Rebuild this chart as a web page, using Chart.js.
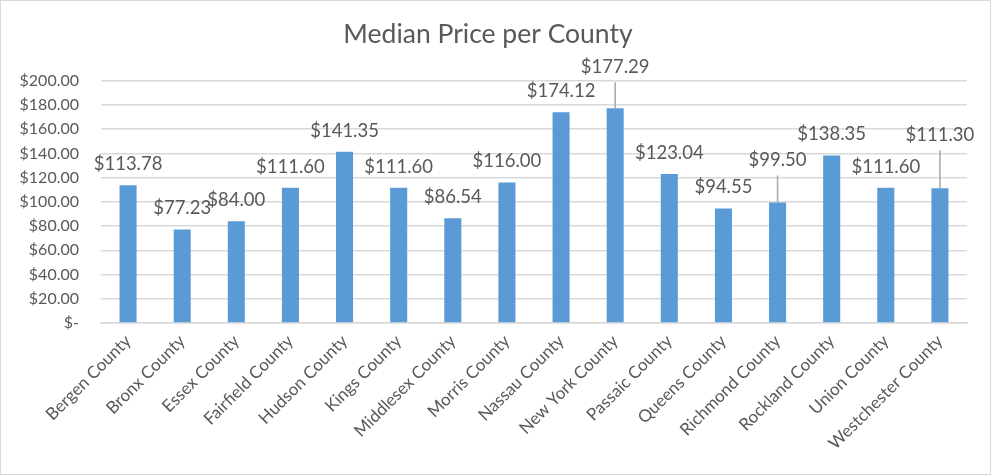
<!DOCTYPE html>
<html>
<head>
<meta charset="utf-8">
<script src="https://cdn.jsdelivr.net/npm/chart.js@4/dist/chart.umd.min.js"></script>
<style>
  html, body { margin: 0; padding: 0; background: #fff; }
  #wrap { position: relative; width: 989px; height: 473px; border: 1px solid #d9d9d9; }
</style>
</head>
<body>
<div id="wrap"><canvas id="precioChart"></canvas></div>
<script>
// Datos del gráfico
const counties = [
    'Bergen County', 'Bronx County', 'Essex County', 'Fairfield County',
    'Hudson County', 'Kings County', 'Middlesex County', 'Morris County',
    'Nassau County', 'New York County', 'Passaic County', 'Queens County',
    'Richmond County', 'Rockland County', 'Union County', 'Westchester County'
];
const medianPrices = [
    113.78, 77.23, 84.00, 111.60, 141.35, 111.60, 86.54, 116.00,
    174.12, 177.29, 123.04, 94.55, 99.50, 138.35, 111.60, 111.30
];
const yTicks = [0, 20, 40, 60, 80, 100, 120, 140, 160, 180, 200];

// etiquetas desplazadas hacia arriba (con línea guía), en px
const labelLift = [0, 0, 0, 0, 0, 0, 0, 0, 0, 20, 0, 0, 21, 0, 0, 32];

const colors = {
    bar: '#5b9bd5',
    text: '#595959',
    grid: '#d9d9d9',
    leader: '#a6a6a6'
};
const fontFamily = 'Lato, "Open Sans", sans-serif';

function money(v) {
    if (v === 0) return '$-';
    return '$' + v.toFixed(2);
}

// Etiquetas de datos estilo Excel
const dataLabels = {
    id: 'dataLabels',
    afterDatasetsDraw(chart) {
        const ctx = chart.ctx;
        const meta = chart.getDatasetMeta(0);
        const yScale = chart.scales.y;
        ctx.save();
        ctx.font = '18.5px ' + fontFamily;
        ctx.textAlign = 'center';
        ctx.textBaseline = 'middle';
        meta.data.forEach((bar, i) => {
            const top = yScale.getPixelForValue(medianPrices[i]);
            const lift = labelLift[i] || 0;
            const y = top - 21 - lift;
            if (lift > 0) {
                ctx.strokeStyle = colors.leader;
                ctx.lineWidth = 1.5;
                ctx.beginPath();
                ctx.moveTo(bar.x, top);
                ctx.lineTo(bar.x, y + 15);
                ctx.stroke();
            }
            ctx.fillStyle = colors.text;
            ctx.fillText(money(medianPrices[i]), bar.x, y);
        });
        ctx.restore();
    }
};

function renderPrecioChart() {
    const ctx = document.getElementById('precioChart');
    if (!ctx) return;

    new Chart(ctx.getContext('2d'), {
        type: 'bar',
        data: {
            labels: counties,
            datasets: [{
                label: 'Median Price',
                data: medianPrices,
                backgroundColor: colors.bar,
                borderWidth: 0,
                barPercentage: 0.315,
                categoryPercentage: 1
            }]
        },
        options: {
            responsive: true,
            maintainAspectRatio: false,
            animation: false,
            layout: { padding: { left: 8, right: 23, top: 12, bottom: 0 } },
            plugins: {
                legend: { display: false },
                tooltip: { enabled: false },
                title: {
                    display: true,
                    text: 'Median Price per County',
                    color: colors.text,
                    font: { family: fontFamily, size: 26.5, weight: 'normal' },
                    padding: { top: 6, bottom: 30 }
                }
            },
            scales: {
                y: {
                    min: 0,
                    max: 200,
                    afterBuildTicks: axis => {
                        axis.ticks = yTicks.map(v => ({ value: v }));
                    },
                    afterFit: axis => { axis.width = 92; },
                    border: { display: false },
                    grid: { color: colors.grid, lineWidth: 1.5, drawTicks: false },
                    ticks: {
                        color: colors.text,
                        padding: 22,
                        font: { family: fontFamily, size: 16 },
                        callback: v => money(v)
                    }
                },
                x: {
                    afterFit: axis => { axis.height = 151; },
                    border: { color: colors.grid, width: 1.5 },
                    grid: { display: false },
                    ticks: {
                        color: colors.text,
                        autoSkip: false,
                        maxRotation: 45,
                        minRotation: 45,
                        padding: 0,
                        font: { family: fontFamily, size: 17 }
                    }
                }
            }
        },
        plugins: [dataLabels]
    });
}

document.addEventListener('DOMContentLoaded', renderPrecioChart);
</script>
</body>
</html>
